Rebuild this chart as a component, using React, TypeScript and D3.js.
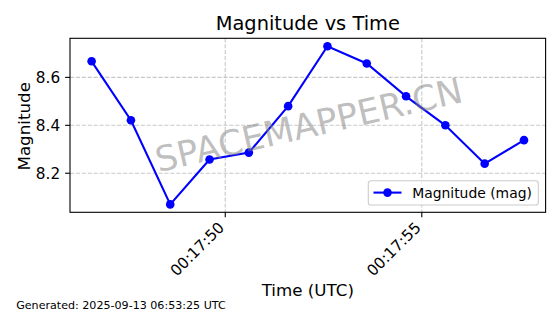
import React from "react";
import * as d3 from "d3";

const times = [
  "2025-09-13T00:17:46.6Z", "2025-09-13T00:17:47.6Z", "2025-09-13T00:17:48.6Z",
  "2025-09-13T00:17:49.6Z", "2025-09-13T00:17:50.6Z", "2025-09-13T00:17:51.6Z",
  "2025-09-13T00:17:52.6Z", "2025-09-13T00:17:53.6Z", "2025-09-13T00:17:54.6Z",
  "2025-09-13T00:17:55.6Z", "2025-09-13T00:17:56.6Z", "2025-09-13T00:17:57.6Z",
];
const magnitudes = [8.667, 8.421, 8.07, 8.257, 8.286, 8.48, 8.73, 8.658, 8.521, 8.4, 8.24, 8.338];
const xTickTimes = ["2025-09-13T00:17:50Z", "2025-09-13T00:17:55Z"];
const yTicks = [8.2, 8.4, 8.6];
const title = "Magnitude vs Time";
const xLabel = "Time (UTC)";
const yLabel = "Magnitude";
const legendLabel = "Magnitude (mag)";
const watermark = "SPACEMAPPER.CN";
const footer = "Generated: 2025-09-13 06:53:25 UTC";

const W = 560, H = 314;
const L = 70, R = 545.6, T = 38.3, B = 212.3;
const FONT = "'DejaVu Sans', sans-serif";

export default function App() {
  const dates = times.map((t) => new Date(t));
  const tExt = d3.extent(dates.map((d) => d.getTime())) as [number, number];
  const tPad = (tExt[1] - tExt[0]) * 0.05;
  const x = d3.scaleUtc().domain([new Date(tExt[0] - tPad), new Date(tExt[1] + tPad)]).range([L, R]);
  const yExt = d3.extent(magnitudes) as [number, number];
  const yPad = (yExt[1] - yExt[0]) * 0.05;
  const y = d3.scaleLinear().domain([yExt[0] - yPad, yExt[1] + yPad]).range([B, T]);
  const fmt = d3.utcFormat("%H:%M:%S");
  const line = d3.line<number>().x((_, i) => x(dates[i])).y((d) => y(d));
  const xt = xTickTimes.map((t) => new Date(t));
  const cx = (L + R) / 2, cy = (T + B) / 2;

  return (
    <svg width={W} height={H} style={{ position: "absolute", left: 0, top: 0, background: "#fff" }} fontFamily={FONT}>
      <rect x={0} y={0} width={W} height={H} fill="#fff" />
      {/* grid */}
      <g stroke="#b0b0b0" strokeOpacity={0.7} strokeWidth={1.1} strokeDasharray="4.1 1.8">
        {xt.map((d, i) => (
          <line key={"gx" + i} x1={x(d)} x2={x(d)} y1={T} y2={B} />
        ))}
        {yTicks.map((v, i) => (
          <line key={"gy" + i} x1={L} x2={R} y1={y(v)} y2={y(v)} />
        ))}
      </g>
      {/* data */}
      <path d={line(magnitudes) || ""} fill="none" stroke="#0000ff" strokeWidth={2.1} />
      {magnitudes.map((v, i) => (
        <circle key={"p" + i} cx={x(dates[i])} cy={y(v)} r={4.3} fill="#0000ff" />
      ))}
      {/* watermark */}
      <text x={cx + 1} y={cy} fontSize={35} fill="#808080" fillOpacity={0.5} textAnchor="middle" dominantBaseline="central"
        transform={`rotate(-13 ${cx + 1} ${cy})`}>{watermark}</text>
      {/* frame */}
      <rect x={L} y={T} width={R - L} height={B - T} fill="none" stroke="#000" strokeWidth={1.1} />
      {/* y ticks */}
      {yTicks.map((v, i) => (
        <g key={"yt" + i}>
          <line x1={L - 4.9} x2={L} y1={y(v)} y2={y(v)} stroke="#000" strokeWidth={1.1} />
          <text x={L - 9.8} y={y(v) + 5.6} fontSize={15.3} textAnchor="end" fill="#000">{v.toFixed(1)}</text>
        </g>
      ))}
      {/* x ticks */}
      {xt.map((d, i) => (
        <g key={"xt" + i}>
          <line x1={x(d)} x2={x(d)} y1={B} y2={B + 4.9} stroke="#000" strokeWidth={1.1} />
          <text x={x(d)} y={228.5} fontSize={15.3} textAnchor="end" fill="#000"
            transform={`rotate(-45 ${x(d)} 228.5)`}>{fmt(d)}</text>
        </g>
      ))}
      {/* labels */}
      <text x={cx} y={30} fontSize={19.4} textAnchor="middle" fill="#000">{title}</text>
      <text x={cx} y={295.7} fontSize={16.7} textAnchor="middle" fill="#000">{xLabel}</text>
      <text x={30} y={cy + 1} fontSize={16.7} textAnchor="middle" fill="#000" transform={`rotate(-90 30 ${cy + 1})`}>{yLabel}</text>
      {/* legend */}
      <g>
        <rect x={368.3} y={180.7} width={170} height={24.3} rx={2.8} fill="#fff" fillOpacity={0.8} stroke="#cccccc" strokeWidth={1.1} />
        <line x1={373.5} x2={401.5} y1={192.6} y2={192.6} stroke="#0000ff" strokeWidth={2.1} />
        <circle cx={387.5} cy={192.6} r={4.3} fill="#0000ff" />
        <text x={412.2} y={197.6} fontSize={13.9} fill="#000">{legendLabel}</text>
      </g>
      <text x={16.2} y={309} fontSize={11.1} fill="#000">{footer}</text>
    </svg>
  );
}
